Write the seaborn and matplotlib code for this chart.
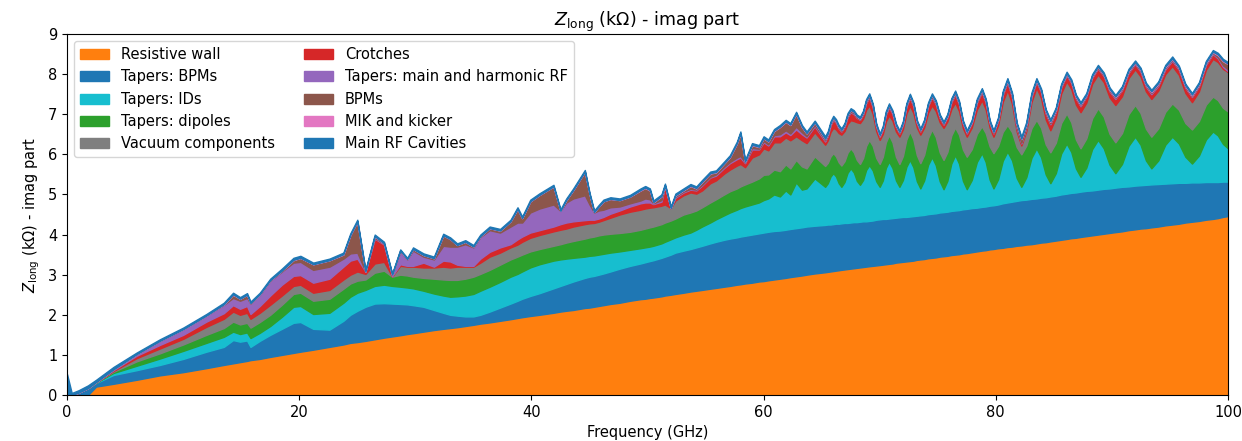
import numpy as np
import matplotlib
matplotlib.use("Agg")
import matplotlib.pyplot as plt
import seaborn as sns

# Frequency grid (GHz)
freq = [0.0, 0.4, 1.0, 1.8, 2.5, 4, 6, 8, 10, 12, 13.5, 14.3, 14.9, 15.5, 15.8, 16.6, 17.5, 18.5, 19.5, 20.1,
        21.2, 22.6, 23.8, 24.4, 25.0, 25.7, 26.5, 27.3, 28.0, 28.7, 29.3, 29.8, 30.7, 31.6, 32.4, 33.0, 33.6, 34.3, 35.0, 35.6,
        36.4, 37.3, 38.2, 38.8, 39.2, 39.9, 40.7, 41.9, 42.5, 43.0, 43.6, 44.6, 45.0, 45.4, 45.8, 46.2, 46.8, 47.6, 48.5, 49.4,
        49.8, 50.2, 50.5, 51.2, 51.5, 52.0, 52.4, 53.1, 53.7, 54.2, 54.7, 55.4, 55.9, 56.6, 57.1, 57.7, 58.0, 58.4, 59.0, 59.6,
        60.0, 60.4, 60.9, 61.4, 61.9, 62.3, 62.8, 63.3, 63.7, 64.4,
        65.3, 65.53, 65.77, 66.0, 66.23, 66.47, 66.7, 66.97, 67.23, 67.5, 67.77, 68.03, 68.3, 68.57, 68.83,
        69.1, 69.4, 69.7, 70.0, 70.27, 70.53, 70.8, 71.1, 71.4, 71.7, 72.0, 72.3, 72.6, 72.9, 73.2,
        73.5, 73.83, 74.17, 74.5, 74.83, 75.17, 75.5, 75.83, 76.17, 76.5, 76.83, 77.17, 77.5, 77.93, 78.37,
        78.8, 79.13, 79.47, 79.8, 80.2, 80.6, 81.0, 81.4, 81.8, 82.2, 82.63, 83.07, 83.5, 83.9, 84.3,
        84.7, 85.17, 85.63, 86.1, 86.5, 86.9, 87.3, 87.8, 88.3, 88.8, 89.3, 89.8, 90.3, 90.87, 91.43,
        92.0, 92.47, 92.93, 93.4, 94.0, 94.6, 95.2, 95.77, 96.33, 96.9, 97.5, 98.1, 98.7, 99.13, 99.57, 100]

# Upper edge of each stacked contribution (kOhm)
resistive_wall_upper = [0, 0, 0, 0, 0.21, 0.28, 0.38, 0.49, 0.57, 0.67,
    0.75, 0.79, 0.82, 0.85, 0.87, 0.9, 0.95, 1.0, 1.05, 1.08,
    1.13, 1.2, 1.26, 1.3, 1.32, 1.35, 1.39, 1.43, 1.46, 1.49,
    1.52, 1.54, 1.58, 1.62, 1.65, 1.67, 1.69, 1.72, 1.75, 1.78,
    1.81, 1.85, 1.89, 1.92, 1.94, 1.97, 2.0, 2.05, 2.08, 2.1,
    2.12, 2.17, 2.18, 2.2, 2.22, 2.24, 2.27, 2.3, 2.35, 2.39,
    2.4, 2.42, 2.43, 2.46, 2.48, 2.5, 2.52, 2.55, 2.58, 2.6,
    2.62, 2.65, 2.67, 2.7, 2.72, 2.75, 2.76, 2.78, 2.8, 2.83,
    2.84, 2.86, 2.88, 2.9, 2.92, 2.94, 2.96, 2.98, 3.0, 3.03,
    3.06, 3.07, 3.08, 3.09, 3.10, 3.11, 3.12, 3.13, 3.14, 3.15, 3.16, 3.17, 3.18, 3.19, 3.20,
    3.21, 3.22, 3.23, 3.24, 3.25, 3.26, 3.27, 3.28, 3.30, 3.31, 3.32, 3.33, 3.34, 3.35, 3.37,
    3.38, 3.39, 3.41, 3.42, 3.43, 3.45, 3.46, 3.47, 3.49, 3.5, 3.51, 3.53, 3.54, 3.56, 3.58,
    3.6, 3.61, 3.63, 3.64, 3.66, 3.67, 3.69, 3.70, 3.72, 3.73, 3.75, 3.76, 3.78, 3.80, 3.81,
    3.83, 3.85, 3.87, 3.89, 3.91, 3.92, 3.94, 3.96, 3.98, 4.0, 4.02, 4.04, 4.06, 4.08, 4.11,
    4.13, 4.15, 4.16, 4.18, 4.20, 4.23, 4.25, 4.27, 4.30, 4.32, 4.34, 4.37, 4.39, 4.41, 4.44, 4.46]

tapers_bpms_upper = [0, 0, 0.06, 0.17, 0.3, 0.5, 0.62, 0.75, 0.9, 1.08,
    1.2, 1.37, 1.33, 1.36, 1.2, 1.35, 1.5, 1.65, 1.8, 1.82,
    1.65, 1.63, 1.85, 2.0, 2.1, 2.2, 2.28, 2.29, 2.28, 2.27,
    2.26, 2.24, 2.2, 2.12, 2.05, 2.0, 1.98, 1.96, 1.96, 2.0,
    2.08, 2.18, 2.28, 2.35, 2.4, 2.47, 2.54, 2.66, 2.72, 2.77,
    2.83, 2.92, 2.95, 2.97, 3.0, 3.03, 3.08, 3.15, 3.22, 3.28,
    3.31, 3.34, 3.36, 3.42, 3.45, 3.5, 3.55, 3.6, 3.64, 3.68,
    3.72, 3.78, 3.82, 3.87, 3.9, 3.93, 3.95, 3.97, 4.0, 4.03,
    4.05, 4.07, 4.09, 4.1, 4.12, 4.14, 4.16, 4.18, 4.2, 4.22,
    4.24, 4.25, 4.25, 4.26, 4.27, 4.27, 4.28, 4.29, 4.29, 4.3, 4.31, 4.31, 4.32, 4.33, 4.33,
    4.34, 4.35, 4.37, 4.38, 4.39, 4.39, 4.4, 4.41, 4.42, 4.43, 4.44, 4.44, 4.45, 4.46, 4.47,
    4.48, 4.49, 4.51, 4.52, 4.53, 4.55, 4.56, 4.57, 4.59, 4.6, 4.61, 4.63, 4.64, 4.66, 4.67,
    4.69, 4.70, 4.72, 4.73, 4.75, 4.78, 4.8, 4.82, 4.84, 4.86, 4.87, 4.89, 4.9, 4.92, 4.93,
    4.95, 4.97, 5.0, 5.02, 5.04, 5.05, 5.07, 5.09, 5.1, 5.12, 5.14, 5.15, 5.17, 5.19, 5.2,
    5.22, 5.23, 5.24, 5.25, 5.26, 5.27, 5.28, 5.29, 5.29, 5.3, 5.3, 5.31, 5.31, 5.31, 5.32, 5.32]

tapers_ids_upper = [0, 0, 0.06, 0.17, 0.31, 0.55, 0.73, 0.91, 1.1, 1.3,
    1.45, 1.58, 1.52, 1.56, 1.42, 1.55, 1.72, 1.95, 2.2, 2.22,
    2.02, 2.05, 2.3, 2.45, 2.55, 2.62, 2.72, 2.75, 2.72, 2.7,
    2.68, 2.66, 2.6, 2.53, 2.48, 2.45, 2.46, 2.48, 2.52, 2.6,
    2.7, 2.82, 2.95, 3.02, 3.08, 3.18, 3.26, 3.35, 3.38, 3.4,
    3.42, 3.45, 3.47, 3.48, 3.5, 3.52, 3.55, 3.58, 3.62, 3.66,
    3.68, 3.7, 3.72, 3.78, 3.82, 3.88, 3.93, 4.0, 4.05, 4.12,
    4.2, 4.3, 4.38, 4.48, 4.55, 4.62, 4.66, 4.7, 4.75, 4.8,
    4.86, 4.9, 5.0, 4.95, 5.1, 5.0, 5.3, 5.12, 5.15, 5.4,
    5.19, 5.28, 5.45, 5.53, 5.45, 5.28, 5.19, 5.31, 5.54, 5.65, 5.55, 5.34, 5.24, 5.36, 5.61,
    5.73, 5.60, 5.33, 5.19, 5.35, 5.66, 5.82, 5.66, 5.35, 5.19, 5.36, 5.69, 5.86, 5.68, 5.33,
    5.15, 5.35, 5.74, 5.93, 5.73, 5.33, 5.13, 5.34, 5.77, 5.98, 5.77, 5.34, 5.13, 5.36, 5.81,
    6.03, 5.81, 5.37, 5.15, 5.38, 5.84, 6.07, 5.85, 5.41, 5.19, 5.43, 5.91, 6.15, 5.93, 5.50,
    5.28, 5.53, 6.02, 6.27, 6.06, 5.65, 5.44, 5.67, 6.13, 6.36, 6.15, 5.74, 5.53, 5.76, 6.21,
    6.44, 6.24, 5.85, 5.65, 5.85, 6.24, 6.44, 6.27, 5.94, 5.77, 5.97, 6.37, 6.57, 6.47, 6.26, 6.15]

tapers_dipoles_upper = [0, 0, 0.06, 0.17, 0.31, 0.58, 0.84, 1.04, 1.26, 1.5,
    1.67, 1.83, 1.76, 1.8, 1.68, 1.82, 2.0, 2.25, 2.52, 2.55,
    2.35, 2.4, 2.65, 2.78, 2.85, 2.88, 3.05, 3.1, 2.95, 3.0,
    2.98, 2.95, 2.92, 2.9, 2.88, 2.87, 2.87, 2.9, 2.95, 3.02,
    3.12, 3.25, 3.38, 3.45, 3.5, 3.58, 3.64, 3.72, 3.76, 3.8,
    3.84, 3.9, 3.93, 3.95, 3.98, 4.0, 4.02, 4.04, 4.07, 4.12,
    4.15, 4.18, 4.2, 4.26, 4.3, 4.35, 4.4, 4.5, 4.55, 4.6,
    4.68, 4.8, 4.88, 5.0, 5.08, 5.15, 5.2, 5.25, 5.32, 5.4,
    5.49, 5.5, 5.62, 5.58, 5.75, 5.65, 5.86, 5.7, 5.65, 5.95,
    5.71, 5.79, 5.95, 6.03, 5.95, 5.80, 5.72, 5.83, 6.04, 6.15, 6.05, 5.86, 5.76, 5.91, 6.21,
    6.36, 6.21, 5.91, 5.76, 5.94, 6.30, 6.48, 6.30, 5.94, 5.76, 5.96, 6.37, 6.57, 6.37, 5.98,
    5.78, 5.99, 6.41, 6.62, 6.43, 6.05, 5.86, 6.06, 6.47, 6.67, 6.49, 6.12, 5.94, 6.13, 6.51,
    6.7, 6.53, 6.20, 6.03, 6.21, 6.56, 6.73, 6.55, 6.18, 6.0, 6.22, 6.65, 6.86, 6.66, 6.25,
    6.05, 6.29, 6.78, 7.02, 6.80, 6.37, 6.15, 6.40, 6.90, 7.15, 6.94, 6.51, 6.3, 6.53, 7.00,
    7.23, 7.03, 6.64, 6.44, 6.65, 7.06, 7.27, 7.11, 6.78, 6.62, 6.83, 7.24, 7.44, 7.35, 7.16, 7.07]

vacuum_components_upper = [0, 0, 0.06, 0.17, 0.32, 0.6, 0.92, 1.16, 1.4, 1.7,
    1.9, 2.08, 2.0, 2.05, 1.9, 2.05, 2.25, 2.48, 2.72, 2.75,
    2.55, 2.62, 2.88, 3.0, 3.08, 3.02, 3.28, 3.32, 2.96, 3.22,
    3.2, 3.2, 3.18, 3.18, 3.2, 3.18, 3.2, 3.2, 3.2, 3.3,
    3.45, 3.55, 3.68, 3.75, 3.82, 3.92, 3.99, 4.08, 4.12, 4.15,
    4.2, 4.26, 4.28, 4.29, 4.32, 4.36, 4.42, 4.5, 4.57, 4.62,
    4.65, 4.67, 4.68, 4.72, 4.75, 4.66, 4.85, 4.98, 5.05, 5.02,
    5.1, 5.28, 5.35, 5.52, 5.62, 5.72, 5.76, 5.68, 5.92, 6.0,
    6.15, 6.1, 6.3, 6.3, 6.42, 6.35, 6.45, 6.35, 6.28, 6.55,
    6.24, 6.35, 6.56, 6.66, 6.62, 6.53, 6.49, 6.58, 6.76, 6.85, 6.83, 6.80, 6.78, 6.89, 7.11,
    7.22, 7.01, 6.58, 6.36, 6.51, 6.82, 6.97, 6.84, 6.57, 6.44, 6.63, 7.02, 7.21, 7.03, 6.67,
    6.49, 6.67, 7.04, 7.22, 7.08, 6.80, 6.66, 6.82, 7.13, 7.29, 7.08, 6.65, 6.44, 6.67, 7.12,
    7.35, 7.12, 6.67, 6.44, 6.73, 7.31, 7.6, 7.26, 6.57, 6.22, 6.58, 7.30, 7.66, 7.40, 6.87,
    6.6, 6.91, 7.52, 7.82, 7.63, 7.24, 7.05, 7.29, 7.76, 7.99, 7.80, 7.42, 7.23, 7.45, 7.90,
    8.12, 7.94, 7.57, 7.38, 7.59, 8.00, 8.2, 7.98, 7.53, 7.3, 7.57, 8.11, 8.38, 8.30, 8.13, 8.05]

crotches_upper = [0, 0, 0.06, 0.17, 0.32, 0.62, 0.98, 1.25, 1.5, 1.83,
    2.04, 2.24, 2.15, 2.22, 2.02, 2.22, 2.48, 2.75, 2.97, 2.99,
    2.8, 2.9, 3.2, 3.35, 3.4, 3.08, 3.9, 3.75, 2.96, 3.26,
    3.22, 3.22, 3.3, 3.2, 3.35, 3.33, 3.25, 3.22, 3.22, 3.4,
    3.57, 3.68, 3.76, 3.88, 3.95, 4.05, 4.11, 4.2, 4.26, 4.3,
    4.33, 4.36, 4.37, 4.37, 4.4, 4.44, 4.52, 4.6, 4.7, 4.78,
    4.8, 4.8, 4.76, 4.82, 5.2, 4.66, 4.92, 5.05, 5.12, 5.1,
    5.22, 5.42, 5.47, 5.66, 5.78, 5.88, 5.92, 5.78, 6.12, 6.12,
    6.3, 6.22, 6.45, 6.45, 6.55, 6.48, 6.62, 6.5, 6.42, 6.7,
    6.32, 6.46, 6.73, 6.86, 6.79, 6.64, 6.57, 6.69, 6.93, 7.05, 7.00, 6.91, 6.86, 7.00, 7.28,
    7.42, 7.18, 6.69, 6.44, 6.62, 6.99, 7.17, 7.01, 6.68, 6.52, 6.74, 7.19, 7.41, 7.20, 6.78,
    6.57, 6.78, 7.21, 7.42, 7.25, 6.91, 6.74, 6.93, 7.30, 7.49, 7.25, 6.76, 6.52, 6.78, 7.29,
    7.55, 7.29, 6.78, 6.52, 6.84, 7.48, 7.8, 7.42, 6.65, 6.27, 6.66, 7.43, 7.81, 7.55, 7.02,
    6.75, 7.06, 7.67, 7.97, 7.78, 7.39, 7.2, 7.44, 7.91, 8.14, 7.95, 7.57, 7.38, 7.60, 8.03,
    8.25, 8.06, 7.69, 7.5, 7.71, 8.12, 8.33, 8.11, 7.66, 7.43, 7.70, 8.23, 8.5, 8.39, 8.18, 8.07]

tapers_rf_upper = [0, 0, 0.06, 0.17, 0.32, 0.64, 1.02, 1.35, 1.64, 1.98,
    2.25, 2.42, 2.35, 2.42, 2.28, 2.5, 2.85, 3.08, 3.3, 3.32,
    3.12, 3.2, 3.4, 3.53, 3.55, 3.08, 3.92, 3.77, 3.0, 3.58,
    3.38, 3.6, 3.45, 3.38, 3.72, 3.7, 3.7, 3.76, 3.68, 3.94,
    4.11, 4.05, 4.2, 4.3, 4.3, 4.55, 4.65, 4.75, 4.59, 4.8,
    4.9, 4.98, 4.75, 4.55, 4.6, 4.62, 4.68, 4.7, 4.78, 4.85,
    4.9, 4.88, 4.78, 4.86, 5.22, 4.66, 4.94, 5.07, 5.14, 5.12,
    5.24, 5.44, 5.5, 5.69, 5.81, 5.92, 5.96, 5.8, 6.16, 6.14,
    6.33, 6.25, 6.48, 6.5, 6.6, 6.52, 6.69, 6.55, 6.45, 6.73,
    6.35, 6.48, 6.75, 6.88, 6.81, 6.66, 6.58, 6.70, 6.95, 7.07, 7.02, 6.92, 6.87, 7.01, 7.30,
    7.44, 7.19, 6.70, 6.45, 6.64, 7.01, 7.19, 7.03, 6.69, 6.53, 6.76, 7.21, 7.43, 7.22, 6.79,
    6.58, 6.80, 7.23, 7.44, 7.27, 6.92, 6.75, 6.94, 7.32, 7.51, 7.27, 6.78, 6.53, 6.79, 7.31,
    7.57, 7.31, 6.79, 6.53, 6.85, 7.50, 7.82, 7.44, 6.67, 6.29, 6.68, 7.45, 7.83, 7.57, 7.04,
    6.77, 7.08, 7.69, 7.99, 7.80, 7.41, 7.22, 7.46, 7.93, 8.16, 7.97, 7.59, 7.4, 7.62, 8.05,
    8.27, 8.09, 7.72, 7.53, 7.74, 8.15, 8.36, 8.13, 7.68, 7.45, 7.72, 8.25, 8.52, 8.42, 8.22, 8.12]

bpms_upper = [0, 0, 0.06, 0.17, 0.32, 0.64, 1.02, 1.35, 1.64, 1.98,
    2.26, 2.5, 2.4, 2.5, 2.29, 2.51, 2.86, 3.1, 3.36, 3.42,
    3.26, 3.36, 3.5, 3.99, 4.33, 3.08, 3.96, 3.78, 3.0, 3.6,
    3.39, 3.64, 3.49, 3.41, 3.98, 3.89, 3.74, 3.82, 3.7, 3.96,
    4.16, 4.1, 4.33, 4.64, 4.41, 4.83, 4.99, 5.2, 4.59, 4.86,
    5.11, 5.57, 5.01, 4.56, 4.7, 4.83, 4.89, 4.86, 4.95, 5.1,
    5.16, 5.1, 4.8, 4.95, 5.22, 4.66, 4.97, 5.1, 5.21, 5.15,
    5.31, 5.52, 5.55, 5.77, 5.93, 6.27, 6.52, 5.81, 6.23, 6.18,
    6.4, 6.32, 6.58, 6.68, 6.81, 6.73, 7.01, 6.68, 6.52, 6.79,
    6.38, 6.51, 6.78, 6.91, 6.83, 6.68, 6.6, 6.73, 6.98, 7.1, 7.05, 6.94, 6.89, 7.04, 7.33,
    7.47, 7.22, 6.72, 6.47, 6.66, 7.03, 7.22, 7.05, 6.72, 6.55, 6.78, 7.23, 7.46, 7.25, 6.81,
    6.6, 6.82, 7.25, 7.47, 7.30, 6.95, 6.77, 6.96, 7.35, 7.54, 7.29, 6.80, 6.55, 6.81, 7.34,
    7.6, 7.34, 6.81, 6.55, 6.88, 7.53, 7.85, 7.48, 6.75, 6.38, 6.75, 7.48, 7.85, 7.59, 7.07,
    6.81, 7.11, 7.71, 8.01, 7.82, 7.43, 7.24, 7.48, 7.95, 8.18, 7.99, 7.61, 7.42, 7.64, 8.07,
    8.29, 8.11, 7.74, 7.55, 7.76, 8.17, 8.38, 8.15, 7.70, 7.47, 7.74, 8.27, 8.54, 8.47, 8.32, 8.25]

mik_kicker_upper = [0, 0, 0.06, 0.17, 0.32, 0.64, 1.02, 1.35, 1.64, 1.98,
    2.26, 2.51, 2.4, 2.5, 2.29, 2.51, 2.86, 3.1, 3.37, 3.42,
    3.26, 3.36, 3.51, 3.99, 4.33, 3.08, 3.96, 3.78, 3.0, 3.6,
    3.39, 3.64, 3.49, 3.41, 3.98, 3.89, 3.74, 3.82, 3.7, 3.96,
    4.16, 4.1, 4.33, 4.64, 4.41, 4.83, 4.99, 5.2, 4.59, 4.86,
    5.11, 5.57, 5.01, 4.56, 4.7, 4.83, 4.89, 4.86, 4.95, 5.11,
    5.17, 5.11, 4.81, 4.96, 5.23, 4.66, 4.98, 5.11, 5.22, 5.16,
    5.32, 5.53, 5.56, 5.78, 5.94, 6.28, 6.53, 5.82, 6.24, 6.19,
    6.41, 6.33, 6.59, 6.69, 6.82, 6.74, 7.02, 6.69, 6.53, 6.8,
    6.39, 6.52, 6.79, 6.92, 6.84, 6.69, 6.61, 6.74, 6.99, 7.11, 7.06, 6.95, 6.9, 7.05, 7.34,
    7.48, 7.23, 6.73, 6.48, 6.67, 7.04, 7.23, 7.06, 6.73, 6.56, 6.79, 7.24, 7.47, 7.26, 6.82,
    6.61, 6.83, 7.26, 7.48, 7.31, 6.96, 6.78, 6.97, 7.36, 7.55, 7.30, 6.81, 6.56, 6.82, 7.35,
    7.61, 7.35, 6.82, 6.56, 6.89, 7.54, 7.86, 7.49, 6.76, 6.39, 6.76, 7.49, 7.86, 7.60, 7.09,
    6.83, 7.13, 7.72, 8.02, 7.83, 7.45, 7.26, 7.49, 7.96, 8.19, 8.00, 7.63, 7.44, 7.66, 8.09,
    8.3, 8.12, 7.75, 7.57, 7.78, 8.19, 8.39, 8.17, 7.72, 7.49, 7.76, 8.29, 8.56, 8.49, 8.34, 8.26]

main_rf_cavities_upper = [0.52, 0.05, 0.12, 0.24, 0.38, 0.7, 1.06, 1.39, 1.68, 2.02,
    2.3, 2.55, 2.44, 2.54, 2.33, 2.55, 2.9, 3.15, 3.42, 3.47,
    3.3, 3.4, 3.55, 4.03, 4.37, 3.12, 4.0, 3.82, 3.03, 3.63,
    3.42, 3.68, 3.53, 3.45, 4.02, 3.93, 3.78, 3.86, 3.74, 4.0,
    4.2, 4.14, 4.37, 4.68, 4.45, 4.87, 5.03, 5.24, 4.63, 4.9,
    5.15, 5.61, 5.05, 4.6, 4.74, 4.87, 4.93, 4.9, 4.99, 5.15,
    5.21, 5.15, 4.85, 5.0, 5.27, 4.7, 5.02, 5.15, 5.26, 5.2,
    5.36, 5.57, 5.6, 5.82, 5.98, 6.32, 6.57, 5.86, 6.28, 6.23,
    6.45, 6.37, 6.63, 6.73, 6.86, 6.78, 7.06, 6.73, 6.57, 6.84,
    6.45, 6.58, 6.83, 6.96, 6.88, 6.73, 6.65, 6.78, 7.03, 7.15, 7.10, 6.99, 6.94, 7.09, 7.38,
    7.52, 7.27, 6.77, 6.52, 6.71, 7.08, 7.27, 7.10, 6.77, 6.6, 6.83, 7.28, 7.51, 7.30, 6.86,
    6.65, 6.87, 7.30, 7.52, 7.35, 7.00, 6.82, 7.01, 7.40, 7.59, 7.34, 6.85, 6.6, 6.86, 7.39,
    7.65, 7.39, 6.86, 6.6, 6.93, 7.58, 7.9, 7.54, 6.80, 6.44, 6.81, 7.54, 7.9, 7.64, 7.13,
    6.87, 7.17, 7.76, 8.06, 7.87, 7.49, 7.3, 7.53, 8.00, 8.23, 8.04, 7.67, 7.48, 7.70, 8.13,
    8.34, 8.16, 7.79, 7.61, 7.82, 8.23, 8.44, 8.21, 7.76, 7.53, 7.80, 8.33, 8.6, 8.53, 8.38, 8.3]

labels = ["Resistive wall", "Tapers: BPMs", "Tapers: IDs", "Tapers: dipoles", "Vacuum components",
          "Crotches", "Tapers: main and harmonic RF", "BPMs", "MIK and kicker", "Main RF Cavities"]
x_ticks = [0, 20, 40, 60, 80, 100]
y_ticks = [0, 1, 2, 3, 4, 5, 6, 7, 8, 9]

sns.set_style("ticks", {"axes.edgecolor": "black", "text.color": "black", "axes.labelcolor": "black",
                        "xtick.color": "black", "ytick.color": "black"})
plt.rcParams["font.family"] = ["DejaVu Sans"]
plt.rcParams["font.size"] = 10.5

tab = sns.color_palette("tab10")
colors = [tab[1], tab[0], tab[9], tab[2], tab[7], tab[3], tab[4], tab[5], tab[6], tab[0]]
uppers = [resistive_wall_upper, tapers_bpms_upper, tapers_ids_upper, tapers_dipoles_upper,
          vacuum_components_upper, crotches_upper, tapers_rf_upper, bpms_upper,
          mik_kicker_upper, main_rf_cavities_upper]

fig, ax = plt.subplots(figsize=(12.42, 4.41), dpi=100)
fig.subplots_adjust(left=0.054, right=0.9887, bottom=0.1043, top=0.9229)

x = np.asarray(freq)
lower = np.zeros(len(x))
for lab, up, col in zip(labels, uppers, colors):
    up = np.asarray(up, dtype=float)
    ax.fill_between(x, lower, up, facecolor=col, edgecolor=col, linewidth=1.0, label=lab)
    lower = up

ax.set_xlim(0, 100)
ax.set_ylim(0, 9)
ax.set_xticks(x_ticks)
ax.set_yticks(y_ticks)
ax.set_xlabel("Frequency (GHz)")
ax.set_ylabel(r"$Z_{\mathrm{long}}$ (kΩ) - imag part")
ax.set_title(r"$Z_{\mathrm{long}}$ (kΩ) - imag part")
ax.legend(loc="upper left", ncol=2)

fig.savefig("out.png", dpi=100)
